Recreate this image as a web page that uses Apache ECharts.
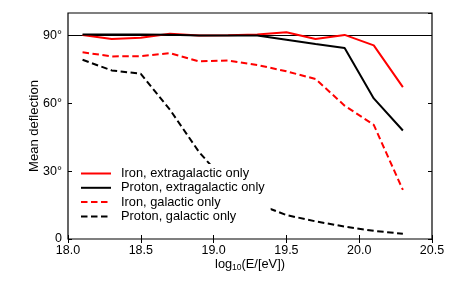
<!DOCTYPE html>
<html><head><meta charset="utf-8">
<script src="https://cdn.jsdelivr.net/npm/echarts@6/dist/echarts.min.js"></script>
<style>html,body{margin:0;padding:0;background:#fff}#c{width:454px;height:282px}</style>
</head><body><div id="c"></div>
<script>
const energies = [18.1, 18.3, 18.5, 18.7, 18.9, 19.1, 19.3, 19.5, 19.7, 19.9, 20.1, 20.3];
const ironExtra = [90.3, 88.5, 89.0, 90.8, 90.0, 90.2, 90.5, 91.5, 88.5, 90.3, 85.7, 67.2];
const protonExtra = [90.5, 90.5, 90.5, 90.4, 90.0, 90.0, 90.0, 88.2, 86.3, 84.5, 62.2, 48.0];
const ironGal = [82.6, 80.8, 80.9, 82.2, 78.6, 79.0, 77.0, 74.2, 70.8, 59.0, 50.5, 21.7];
const protonGal = [79.3, 74.6, 73.1, 57.2, 38.5, 24.0, 15.5, 10.6, 7.8, 5.5, 3.6, 2.3];
const seriesNames = ['Iron, extragalactic only', 'Proton, extragalactic only', 'Iron, galactic only', 'Proton, galactic only'];
const xTicks = [18.0, 18.5, 19.0, 19.5, 20.0, 20.5];
const yTicks = [0, 30, 60, 90];
const refLine = 90;

const font = 'Liberation Sans';
const pair = arr => energies.map((e, i) => [e, arr[i]]);
const mk = (name, data, color, dashed) => ({
  name, type: 'line', data: pair(data), symbol: 'none', silent: true,
  lineStyle: { color, width: 2, type: dashed ? [6.5, 3.5] : 'solid' },
  itemStyle: { color }, z: 3
});
const s0 = mk(seriesNames[0], ironExtra, '#ff0000', false);
s0.markLine = { silent: true, symbol: 'none', label: { show: false },
  lineStyle: { color: '#000', width: 1, type: 'solid' }, data: [{ yAxis: refLine }], z: 1 };

const chart = echarts.init(document.getElementById('c'), null, { renderer: 'canvas' });
chart.setOption({
  animation: false,
  backgroundColor: '#fff',
  grid: { left: 68, right: 22, top: 13, bottom: 43, show: true, borderColor: '#000', borderWidth: 1.2, backgroundColor: 'transparent' },
  legend: {
    data: seriesNames, orient: 'vertical', left: 76, top: 164,
    itemWidth: 30, itemHeight: 14, itemGap: 1.3, padding: [3, 6, 5, 4],
    backgroundColor: '#fff',
    itemStyle: { opacity: 0 },
    textStyle: { fontFamily: font, fontSize: 12.8, color: '#000', padding: [0, 0, 0, 5] },
    selectedMode: false
  },
  xAxis: [{
    type: 'value', min: 18, max: 20.5, interval: 0.5,
    axisLine: { show: false }, splitLine: { show: false },
    axisTick: { inside: true, length: 4, lineStyle: { color: '#000' } },
    axisLabel: { color: '#000', fontFamily: font, fontSize: 12.5, margin: 5,
      formatter: v => xTicks.some(t => Math.abs(t - v) < 1e-6) ? v.toFixed(1) : '' },
    name: '{a|log}{s|10}{a|(E/[eV])}', nameLocation: 'middle', nameGap: 18, nameMoveOverlap: false,
    nameTextStyle: { rich: { a: { fontFamily: font, fontSize: 12.8, color: '#000' }, s: { fontFamily: font, fontSize: 8.5, color: '#000', verticalAlign: 'bottom', padding: [6, 0, 0, 0] } } }
  }, {
    type: 'value', min: 18, max: 20.5, interval: 0.5, position: 'top',
    axisLine: { show: false }, splitLine: { show: false }, axisLabel: { show: false },
    axisTick: { inside: true, length: 4, lineStyle: { color: '#000' } }
  }],
  yAxis: [{
    type: 'value', min: 0, max: 100, interval: 30,
    axisLine: { show: false }, splitLine: { show: false },
    axisTick: { inside: true, length: 4, lineStyle: { color: '#000' } },
    axisLabel: { color: '#000', fontFamily: font, fontSize: 12.5, margin: 6, showMaxLabel: false,
      formatter: v => yTicks.includes(v) ? (v === 0 ? '0' : v + '°') : '' },
    name: 'Mean deflection', nameLocation: 'middle', nameGap: 27, nameMoveOverlap: false,
    nameTextStyle: { fontFamily: font, fontSize: 13, color: '#000' }
  }, {
    type: 'value', min: 0, max: 100, interval: 30, position: 'right',
    axisLine: { show: false }, splitLine: { show: false }, axisLabel: { show: false },
    axisTick: { inside: true, length: 4, lineStyle: { color: '#000' } }
  }],
  series: [
    s0,
    mk(seriesNames[1], protonExtra, '#000000', false),
    mk(seriesNames[2], ironGal, '#ff0000', true),
    mk(seriesNames[3], protonGal, '#000000', true)
  ]
});
</script></body></html>
